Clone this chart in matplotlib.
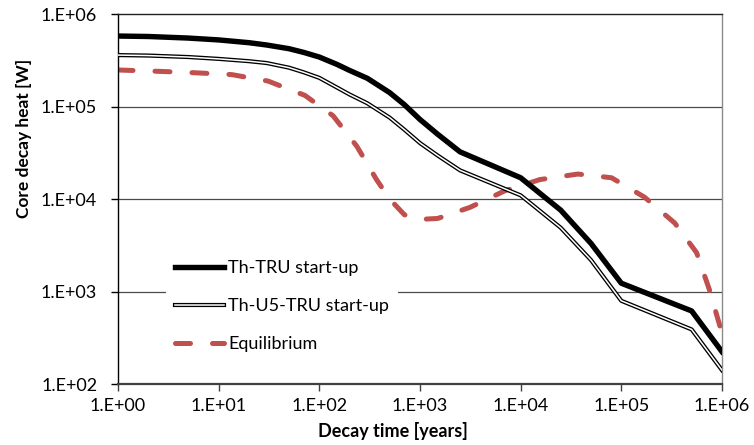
import numpy as np
import matplotlib
matplotlib.use("Agg")
import matplotlib.pyplot as plt
from matplotlib.lines import Line2D

plt.rcParams['font.family'] = ['Lato', 'DejaVu Sans']

# decay heat curves, read in log10(W) against decay time in years
t_start = [1, 2, 5, 10, 20, 30, 50, 70, 100, 150, 200, 300, 500, 700, 1000, 1500, 2500,
           1e4, 2.5e4, 5e4, 1e5, 5e5, 1e6]
th_tru_log = [5.762, 5.757, 5.74, 5.72, 5.69, 5.665, 5.625, 5.585, 5.535, 5.455, 5.39,
              5.305, 5.15, 5.02, 4.86, 4.70, 4.51, 4.23, 3.88, 3.52, 3.09, 2.79, 2.35]
th_u5_tru_log = [5.556, 5.551, 5.535, 5.515, 5.49, 5.47, 5.42, 5.37, 5.31, 5.205, 5.13,
                 5.035, 4.88, 4.75, 4.605, 4.47, 4.31, 4.04, 3.69, 3.34, 2.90, 2.59, 2.15]

t_eq = [1, 2.6, 5.8, 13.5, 31, 72, 137, 236, 370, 500, 700, 1000, 1500, 3140, 7000,
        15500, 37000, 80000, 1.7e5, 3.4e5, 5.6e5, 7.5e5, 1e6]
eq_log = [5.395, 5.38, 5.365, 5.345, 5.275, 5.12, 4.90, 4.57, 4.21, 4.00, 3.83, 3.78, 3.79,
          3.91, 4.09, 4.21, 4.27, 4.23, 4.02, 3.74, 3.42, 3.02, 2.55]

x_ticks = [1e0, 1e1, 1e2, 1e3, 1e4, 1e5, 1e6]
y_ticks = [1e2, 1e3, 1e4, 1e5, 1e6]

th_tru = 10 ** np.array(th_tru_log)
th_u5_tru = 10 ** np.array(th_u5_tru_log)
eq = 10 ** np.array(eq_log)

red = '#C0504D'

fig = plt.figure(figsize=(7.54, 4.45), dpi=100)
ax = fig.add_axes([0.1565, 0.137, 0.801, 0.8315])

ax.set_xscale('log')
ax.set_yscale('log')
ax.set_xlim(1, 1e6)
ax.set_ylim(1e2, 1e6)

for y in y_ticks[1:-1]:
    ax.axhline(y, color='#4a4a4a', lw=0.9, zorder=1)

l1, = ax.plot(t_start, th_tru, color='black', lw=3.9, solid_joinstyle='round', zorder=4)
l2a, = ax.plot(t_start, th_u5_tru, color='black', lw=3.0, solid_joinstyle='round', zorder=3)
l2b, = ax.plot(t_start, th_u5_tru, color='white', lw=1.1, solid_joinstyle='round', zorder=3)
l3, = ax.plot(t_eq, eq, color=red, lw=3.6, dashes=(3.0, 4.4), dash_capstyle='round', zorder=2)

ax.set_xticks(x_ticks)
ax.set_yticks(y_ticks)
ax.set_xticklabels(['1.E+0%d' % i for i in range(7)])
ax.set_yticklabels(['1.E+0%d' % i for i in range(2, 7)])
ax.minorticks_off()
ax.tick_params(axis='both', direction='out', length=5, width=1, labelsize=13, colors='black')
ax.tick_params(axis='x', pad=5, color='#404040')
ax.tick_params(axis='y', pad=10)

ax.spines['left'].set_color('black')
ax.spines['left'].set_linewidth(1)
ax.spines['bottom'].set_color('#404040')
ax.spines['bottom'].set_linewidth(1.6)
ax.spines['top'].set_color('#222222')
ax.spines['top'].set_linewidth(1)
ax.spines['right'].set_color('#8a8a8a')
ax.spines['right'].set_linewidth(1)

# axis titles placed like the spreadsheet layout
fig.text(393 / 754, 1 - 431 / 445, 'Decay time [years]', fontsize=13, fontweight='bold',
         ha='center', va='center')
fig.text(24 / 754, 1 - 138 / 445, 'Core decay heat [W]', fontsize=12.5, fontweight='bold',
         ha='center', va='center', rotation=90)

h2 = (Line2D([], [], color='black', lw=3.0), Line2D([], [], color='white', lw=1.1))
leg = ax.legend([l1, h2, l3], ['Th-TRU start-up', 'Th-U5-TRU start-up', 'Equilibrium'],
                loc='upper left', bbox_to_anchor=(0.0795, 0.36), frameon=True,
                fontsize=13, handlelength=2.7, handletextpad=0.25, labelspacing=1.22,
                borderpad=0.5, borderaxespad=0, fancybox=False)
leg.get_frame().set_edgecolor('none')
leg.get_frame().set_facecolor('white')
leg.get_frame().set_alpha(1)
leg.set_zorder(5)

fig.savefig('out.png', dpi=100)
